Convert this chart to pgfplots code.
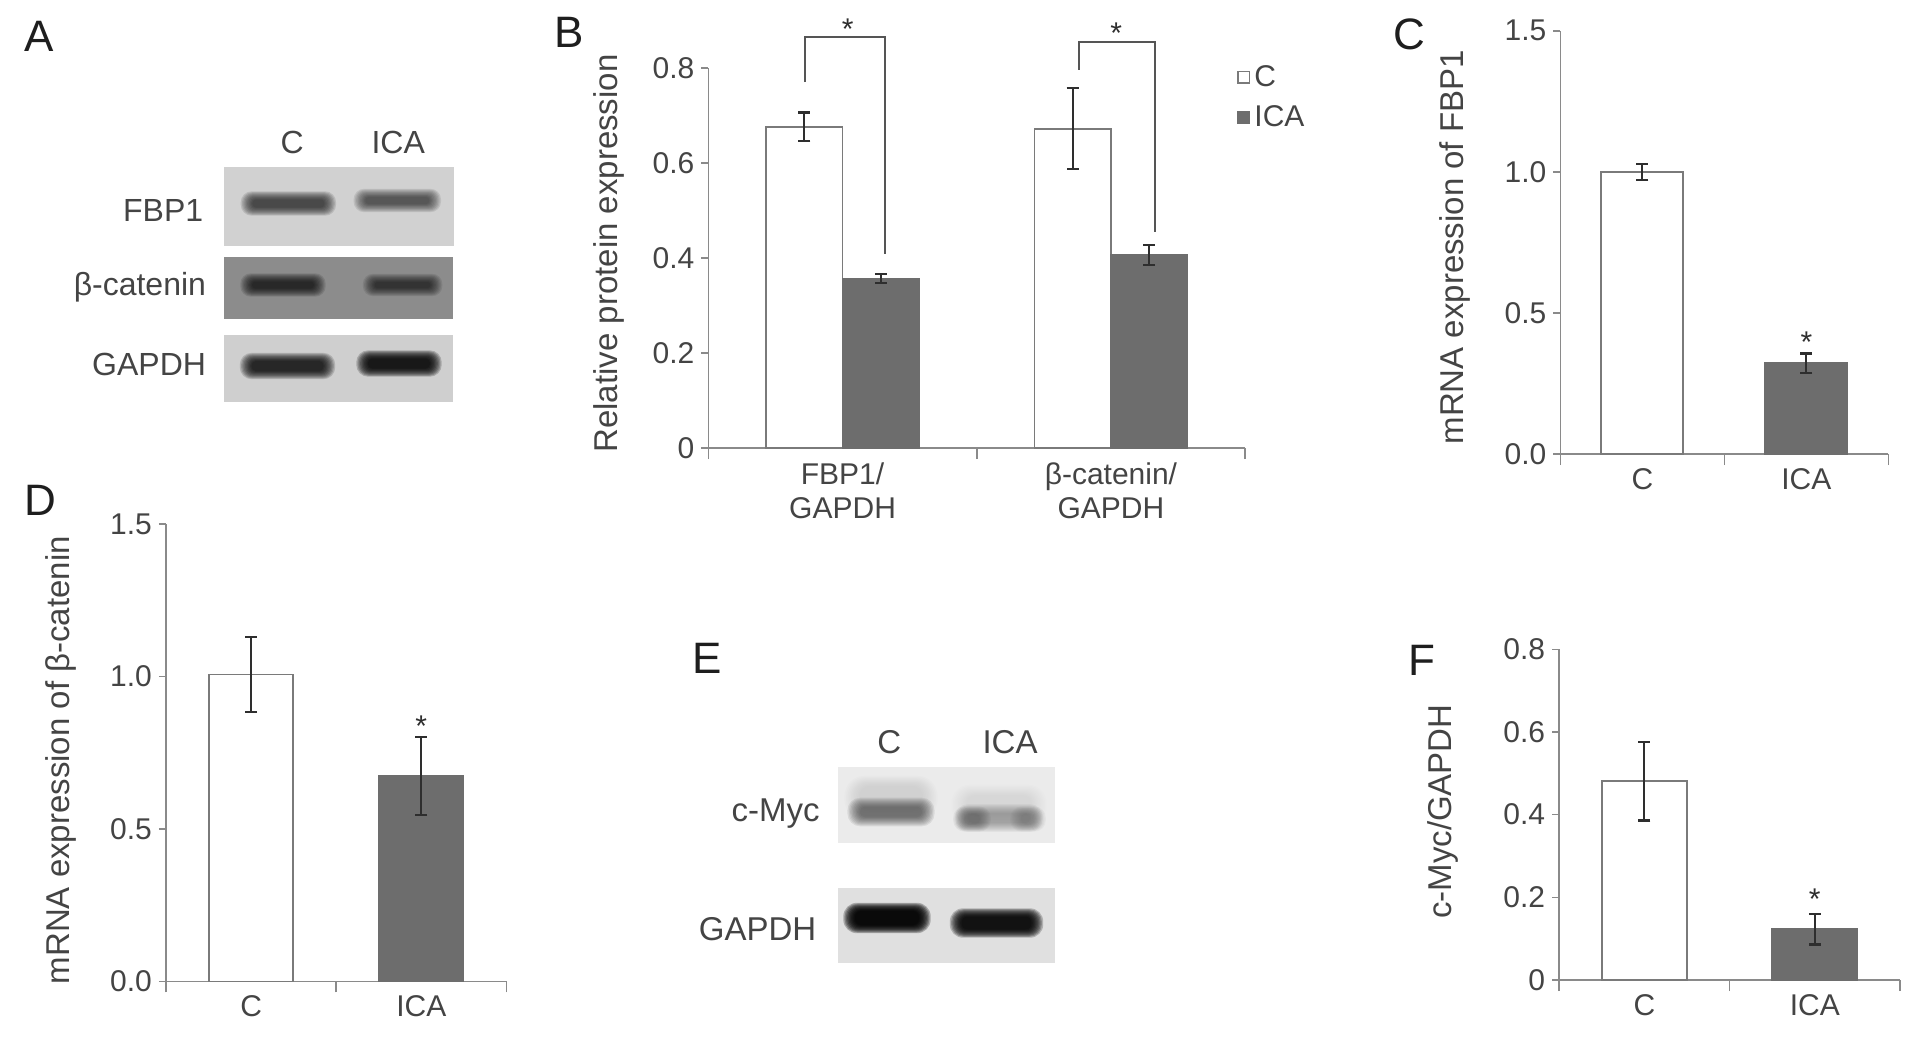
\documentclass[border=0pt]{standalone}
\usepackage{fontspec}
\setmainfont{Liberation Sans}
\usepackage{pgfplots}
\pgfplotsset{compat=1.18}
\definecolor{txt}{HTML}{444444}
\definecolor{axc}{HTML}{8a8a8a}
\definecolor{barline}{HTML}{7a7a7a}
\definecolor{icafill}{HTML}{6d6d6d}
\definecolor{errc}{HTML}{2e2e2e}
\definecolor{letc}{HTML}{1e1e1e}
\definecolor{brk}{HTML}{555555}

% blurred blot band: cx cy halfwidth halfheight colour spread opacity-per-layer
\newcommand{\band}[7]{%
  \foreach \k in {9,8,...,0} {%
    \pgfmathsetmacro{\rx}{#3+\k*#6}%
    \pgfmathsetmacro{\ry}{#4+\k*#6*0.7}%
    \pgfmathsetmacro{\rr}{0.45*\ry}%
    \fill[#5, opacity=#7, rounded corners=\rr pt] ({#1-\rx},{#2-\ry}) rectangle ({#1+\rx},{#2+\ry});
  }}

\pgfplotsset{
  panel/.style={
    scale only axis, anchor=south west, clip=false,
    axis lines=left, axis line style={draw=axc, line width=0.8pt, -},
    xmin=0.5, xmax=2.5, ymin=0,
    xtick={1,2}, xticklabels={C,ICA},
    minor xtick={0.5,1.5,2.5},
    tick align=outside,
    major tick length=3.5pt, minor tick length=5.5pt,
    tick style={draw=axc, line width=0.8pt},
    major x tick style={draw=none},
    /pgf/number format/assume math mode=true,
    tick label style={font=\fontsize{15}{17}\selectfont, text=txt},
    label style={font=\fontsize{16.5}{19}\selectfont, text=txt},
  },
  cbar/.style={fill=white, draw=barline, line width=0.9pt},
  ibar/.style={fill=icafill, draw=icafill, line width=0.9pt},
  sqlegend/.style={legend image code/.code={\draw[##1, line width=0.7pt] (0pt,-2.9pt) rectangle (5.8pt,2.9pt);}},
  errs/.style={error bars/.cd, y dir=both, y explicit,
    error bar style={errc, line width=1.1pt},
    error mark options={rotate=90, errc, mark size=3pt, line width=1.1pt}},
}

\begin{document}
\begin{tikzpicture}
\path[use as bounding box] (0pt,0pt) rectangle (956.5pt,-520pt);

% ---------------- Panel B ----------------
\begin{axis}[panel, ybar=0pt, at={(354.2pt,-224.1pt)}, width=268.35pt, height=190.15pt,
  ymax=0.8, ytick={0,0.2,0.4,0.6,0.8},
  yticklabel style={/pgf/number format/fixed, /pgf/number format/precision=1},
  xticklabels={{FBP1/\\GAPDH},{β-catenin/\\GAPDH}},
  xticklabel style={align=center},
  bar width=38.25pt,
  ylabel={Relative protein expression},
  ylabel style={at={(axis description cs:-0.185,0.512)}, anchor=center},
  legend style={draw=none, fill=none, at={(axis cs:2.47,0.815)}, anchor=north west,
    font=\fontsize{15}{17}\selectfont, text=txt, row sep=4pt, inner sep=0pt},
  legend cell align=left]
\addplot[cbar, sqlegend, errs] coordinates {(1,0.676) +- (0,0.030) (2,0.672) +- (0,0.085)};
\addlegendentry{C}
\addplot[ibar, sqlegend, errs] coordinates {(1,0.357) +- (0,0.010) (2,0.406) +- (0,0.021)};
\addlegendentry{ICA}
\draw[brk, line width=1pt] (axis cs:0.861,0.770) -- (axis cs:0.861,0.864) -- (axis cs:1.159,0.864) -- (axis cs:1.159,0.409);
\draw[brk, line width=1pt] (axis cs:1.881,0.796) -- (axis cs:1.881,0.855) -- (axis cs:2.166,0.855) -- (axis cs:2.166,0.454);
\node[text=errc, font=\fontsize{15}{17}\selectfont, yshift=-3pt] at (axis cs:1.019,0.894) {*};
\node[text=errc, font=\fontsize{15}{17}\selectfont, yshift=-3pt] at (axis cs:2.02,0.886) {*};
\end{axis}

% ---------------- Panel C ----------------
\begin{axis}[panel, at={(780.2pt,-227pt)}, width=163.95pt, height=211.65pt,
  ymax=1.5, ytick={0,0.5,1,1.5},
  yticklabel style={/pgf/number format/fixed, /pgf/number format/fixed zerofill, /pgf/number format/precision=1},
  bar width=41pt,
  ylabel={mRNA expression of FBP1},
  ylabel style={at={(axis description cs:-0.322,0.4885)}, anchor=center}]
\addplot[ybar, bar shift=0pt, cbar, errs] coordinates {(1,1.0) +- (0,0.028)};
\addplot[ybar, bar shift=0pt, ibar, errs] coordinates {(2,0.322) +- (0,0.034)};
\node[text=errc, font=\fontsize{15}{17}\selectfont, yshift=-3pt] at (axis cs:2,0.416) {*};
\end{axis}

% ---------------- Panel D ----------------
\begin{axis}[panel, at={(83pt,-490.7pt)}, width=170.2pt, height=228.6pt,
  ymax=1.5, ytick={0,0.5,1,1.5},
  yticklabel style={/pgf/number format/fixed, /pgf/number format/fixed zerofill, /pgf/number format/precision=1},
  bar width=42pt,
  ylabel={mRNA expression of β-catenin},
  ylabel style={at={(axis description cs:-0.309,0.484)}, anchor=center}]
\addplot[ybar, bar shift=0pt, cbar, errs] coordinates {(1,1.007) +- (0,0.123)};
\addplot[ybar, bar shift=0pt, ibar, errs] coordinates {(2,0.674) +- (0,0.127)};
\node[text=errc, font=\fontsize{15}{17}\selectfont, yshift=-3pt] at (axis cs:2,0.858) {*};
\end{axis}

% ---------------- Panel F ----------------
\begin{axis}[panel, at={(779.55pt,-490pt)}, width=170.45pt, height=165.35pt,
  ymax=0.8, ytick={0,0.2,0.4,0.6,0.8},
  yticklabel style={/pgf/number format/fixed, /pgf/number format/precision=1},
  bar width=42.5pt,
  ylabel={c-Myc/GAPDH},
  ylabel style={at={(axis description cs:-0.341,0.509)}, anchor=center}]
\addplot[ybar, bar shift=0pt, cbar, errs] coordinates {(1,0.481) +- (0,0.095)};
\addplot[ybar, bar shift=0pt, ibar, errs] coordinates {(2,0.123) +- (0,0.037)};
\node[text=errc, font=\fontsize{15}{17}\selectfont, yshift=-3pt] at (axis cs:2,0.21) {*};
\end{axis}

% ---------------- Blots and panel letters ----------------
\begin{scope}[x=0.5pt,y=-0.5pt]
% Panel A
\fill[black!18] (224.3,166.7) rectangle (453.6,245.7);
\band{288.4}{203.5}{36}{4}{black!90}{1.3}{0.12}
\band{397.3}{200.5}{32}{3.5}{black!85}{1.3}{0.11}
\fill[black!45] (224.3,257.3) rectangle (452.9,319.3);
\band{283}{285}{31}{3.5}{black}{1.3}{0.11}
\band{402.6}{285}{28}{3}{black}{1.3}{0.09}
\fill[black!19] (224.3,335) rectangle (452.9,401.7);
\band{287.5}{366}{36}{5}{black}{1.3}{0.15}
\band{399}{363.5}{31}{5}{black}{1.3}{0.19}
\begin{scope}[font=\fontsize{16}{19}\selectfont, text=txt]
\node[anchor=base east, inner sep=0pt] at (203.6,221.7) {FBP1};
\node[anchor=base east, inner sep=0pt] at (206.4,295) {β-catenin};
\node[anchor=base east, inner sep=0pt] at (206.4,375) {GAPDH};
\node[anchor=base, inner sep=0pt] at (292.1,153.3) {C};
\node[anchor=base, inner sep=0pt] at (398.2,153.3) {ICA};
\end{scope}
% Panel E
\fill[black!8] (838.3,766.7) rectangle (1055,843.3);
\band{891}{798}{32}{12}{black!35}{1.6}{0.04}
\band{891}{812}{31}{5.5}{black!75}{1.4}{0.10}
\band{999}{805}{33}{10}{black!30}{1.6}{0.03}
\band{999}{818}{31}{5}{black!55}{1.4}{0.08}
\band{972}{819}{8}{5}{black!75}{1.2}{0.06}
\band{1028}{819}{7}{5}{black!65}{1.2}{0.05}
\fill[black!12] (838.3,888.3) rectangle (1055,963.3);
\band{887}{918}{32}{7}{black}{1.3}{0.25}
\band{996.5}{923}{35}{6.5}{black}{1.3}{0.21}
\begin{scope}[font=\fontsize{16.5}{19}\selectfont, text=txt]
\node[anchor=base east, inner sep=0pt] at (820,821.7) {c-Myc};
\node[anchor=base east, inner sep=0pt] at (816.7,940) {GAPDH};
\node[anchor=base, inner sep=0pt] at (889.3,753.3) {C};
\node[anchor=base, inner sep=0pt] at (1010,753.3) {ICA};
\end{scope}
% Panel letters
\begin{scope}[font=\fontsize{22}{26}\selectfont, text=letc]
\node[anchor=base, inner sep=0pt] at (39.3,51.7) {A};
\node[anchor=base, inner sep=0pt] at (569.3,47.5) {B};
\node[anchor=base, inner sep=0pt] at (1409,49.5) {C};
\node[anchor=base, inner sep=0pt] at (40,515) {D};
\node[anchor=base, inner sep=0pt] at (707.5,673) {E};
\node[anchor=base, inner sep=0pt] at (1421.6,675) {F};
\end{scope}
\end{scope}
\end{tikzpicture}
\end{document}
